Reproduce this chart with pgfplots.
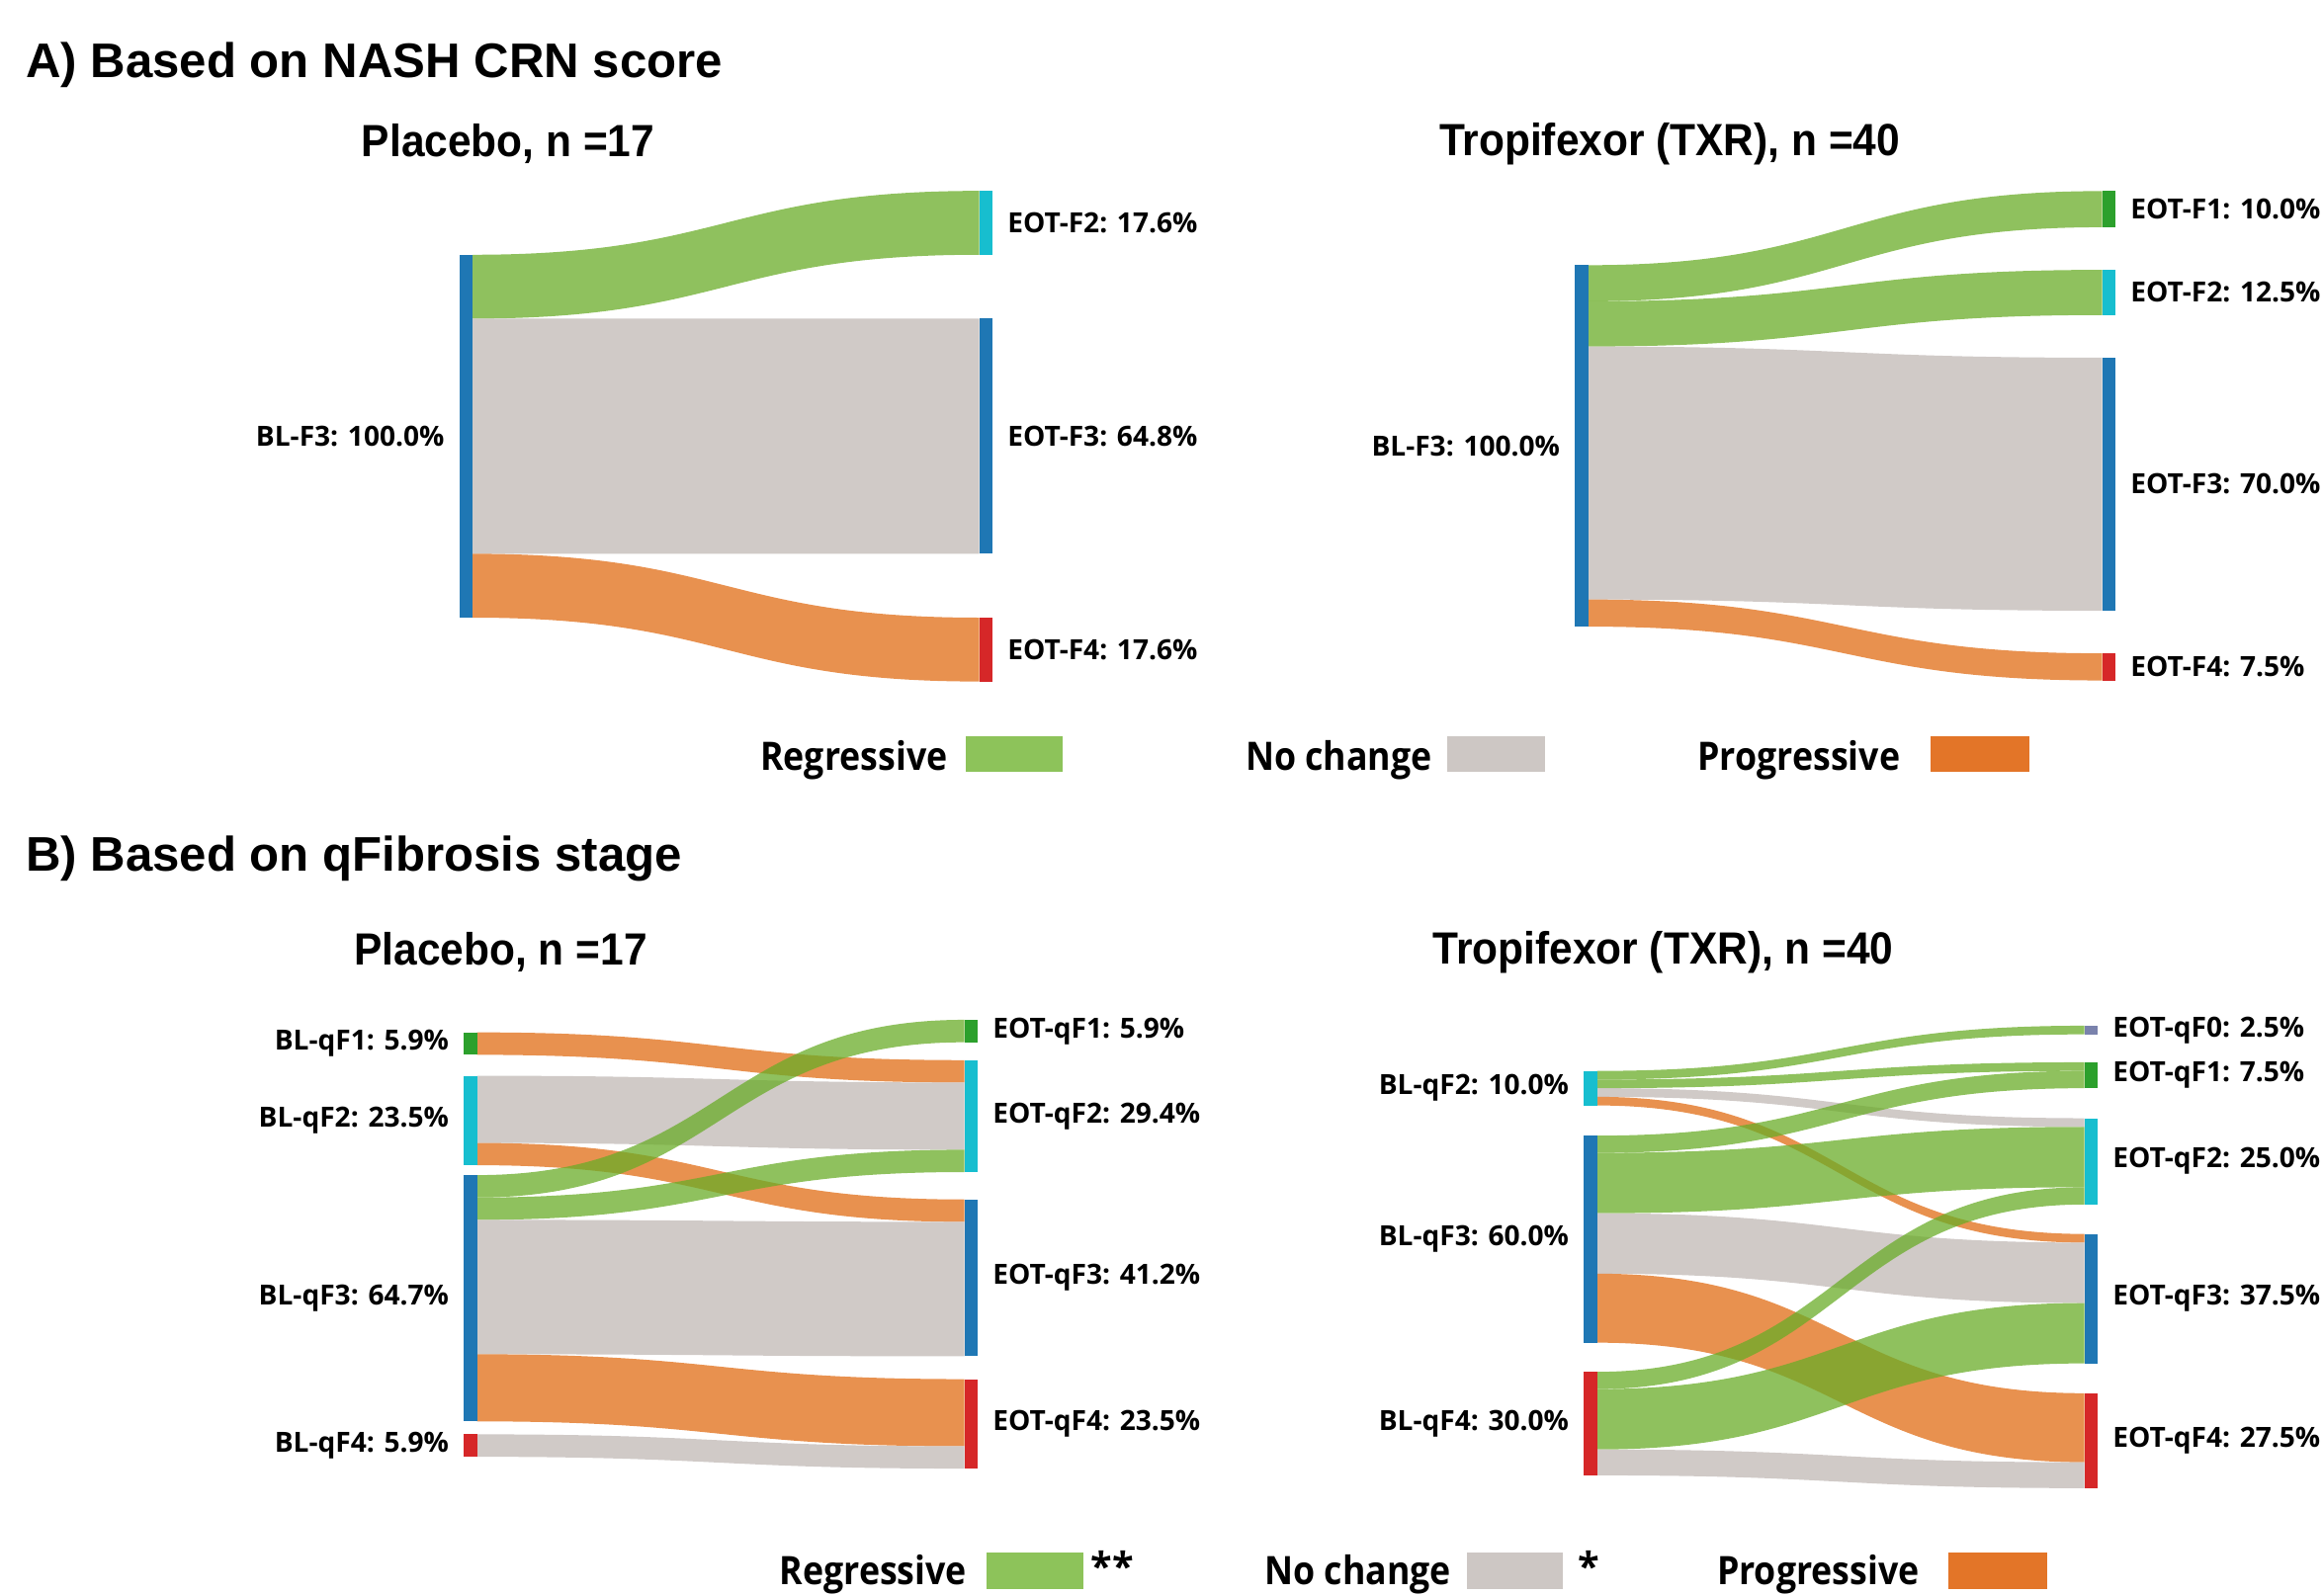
\documentclass[border=0pt]{standalone}
\usepackage{pgfplots}
\pgfplotsset{compat=1.18}
\usepgfplotslibrary{patchplots}
\usepackage{fontspec}
\setmainfont{Open Sans}
\newfontfamily\arialfont{Liberation Sans}

\definecolor{nblue}{RGB}{31,119,180}
\definecolor{ncyan}{RGB}{23,190,207}
\definecolor{ngreen}{RGB}{44,160,44}
\definecolor{nred}{RGB}{214,39,40}
\definecolor{nslate}{RGB}{122,130,172}
\definecolor{fgreen}{RGB}{106,172,40}
\definecolor{fgrey}{RGB}{192,184,180}
\definecolor{forange}{RGB}{224,108,20}
\definecolor{lgreen}{RGB}{141,195,90}
\definecolor{lgrey}{RGB}{205,199,196}
\definecolor{lorange}{RGB}{227,117,40}

\pgfplotsset{
  colormap={mgreen}{color=(fgreen) color=(fgreen)},
  colormap={mgrey}{color=(fgrey) color=(fgrey)},
  colormap={morange}{color=(forange) color=(forange)},
  sk/.style={scale only axis, axis lines=none, ticks=none, clip=false,
    y dir=reverse, xmin=0, xmax=1, anchor=north west,
    point meta min=0, point meta max=1},
}
% flow: colormap, left top, left bottom, right top, right bottom (in % units)
\newcommand{\flow}[5]{\addplot[patch, patch type=coons, shader=flat,
  colormap name=#1, point meta=0, fill opacity=0.75, draw opacity=0]
  coordinates {(0,#2) (0.5,#2) (0.5,#4) (1,#4) (1,#4) (1,#5) (1,#5)
               (0.5,#5) (0.5,#3) (0,#3) (0,#3) (0,#2)};}
% node bar: colour, x left, x right, top, bottom
\newcommand{\nbar}[5]{\addplot[fill=#1, draw=none]
  coordinates {(#2,#4) (#3,#4) (#3,#5) (#2,#5)};}

\tikzset{
  lbl/.style={font=\fontsize{8}{9}\selectfont\bfseries, inner sep=0pt},
  ll/.style={lbl, anchor=east, xshift=-2.8mm},
  rl/.style={lbl, anchor=west, xshift=2.8mm},
  sec/.style={font=\arialfont\bfseries\fontsize{14}{16}\selectfont, inner sep=0pt, anchor=west},
  ttl/.style={font=\arialfont\bfseries\fontsize{13}{15}\selectfont, inner sep=0pt},
  leg/.style={font=\fontsize{11.3}{13}\selectfont\bfseries, inner sep=0pt, anchor=east},
}

\begin{document}
\begin{tikzpicture}
\useasboundingbox (0,0) rectangle (235.2mm,-161.55mm);

% ---------- titles ----------
\node[sec] at (2.55mm,-6.6mm) {A) Based on NASH CRN score};
\node[sec] at (2.55mm,-87.0mm) {B) Based on qFibrosis stage};
\node[ttl] at (51.45mm,-14.55mm) {\scalebox{0.93}[1]{Placebo, n =17}};
\node[ttl] at (169.05mm,-14.55mm) {\scalebox{0.93}[1]{Tropifexor (TXR), n =40}};
\node[ttl] at (50.7mm,-96.45mm) {\scalebox{0.93}[1]{Placebo, n =17}};
\node[ttl] at (168.4mm,-96.45mm) {\scalebox{0.93}[1]{Tropifexor (TXR), n =40}};

% ---------- A: Placebo ----------
\begin{axis}[sk, at={(47.85mm,-19.33mm)}, width=51.3mm, height=49.69mm,
  ymin=-17.6, ymax=117.6]
\flow{mgreen}{0}{17.6}{-17.6}{0}
\flow{mgrey}{17.6}{82.4}{17.6}{82.4}
\flow{morange}{82.4}{100}{100}{117.6}
\nbar{nblue}{-0.0263}{0}{0}{100}
\nbar{ncyan}{1}{1.0263}{-17.6}{0}
\nbar{nblue}{1}{1.0263}{17.6}{82.4}
\nbar{nred}{1}{1.0263}{100}{117.6}
\node[ll] at (axis cs:0,50) {BL-F3: 100.0\%};
\node[rl] at (axis cs:1,-8.8) {EOT-F2: 17.6\%};
\node[rl] at (axis cs:1,50) {EOT-F3: 64.8\%};
\node[rl] at (axis cs:1,108.8) {EOT-F4: 17.6\%};
\end{axis}

% ---------- A: TXR ----------
\begin{axis}[sk, at={(160.8mm,-19.35mm)}, width=52.05mm, height=49.6mm,
  ymin=-20.5, ymax=115]
\flow{mgreen}{0}{10}{-20.5}{-10.5}
\flow{mgreen}{10}{22.5}{1.3}{13.8}
\flow{mgrey}{22.5}{92.5}{25.6}{95.6}
\flow{morange}{92.5}{100}{107.4}{114.9}
\nbar{nblue}{-0.0259}{0}{0}{100}
\nbar{ngreen}{1}{1.0259}{-20.5}{-10.5}
\nbar{ncyan}{1}{1.0259}{1.3}{13.8}
\nbar{nblue}{1}{1.0259}{25.6}{95.6}
\nbar{nred}{1}{1.0259}{107.4}{114.9}
\node[ll] at (axis cs:0,50) {BL-F3: 100.0\%};
\node[rl] at (axis cs:1,-15.5) {EOT-F1: 10.0\%};
\node[rl] at (axis cs:1,7.55) {EOT-F2: 12.5\%};
\node[rl] at (axis cs:1,60.6) {EOT-F3: 70.0\%};
\node[rl] at (axis cs:1,111.15) {EOT-F4: 7.5\%};
\end{axis}

% ---------- B: Placebo ----------
\begin{axis}[sk, at={(48.3mm,-103.28mm)}, width=49.35mm, height=45.45mm,
  ymin=-3.3, ymax=114.6]
\flow{morange}{0}{5.9}{7.3}{13.18}
\flow{mgrey}{11.4}{29.05}{13.18}{30.83}
\flow{morange}{29.05}{34.9}{43.9}{49.78}
\flow{mgreen}{37.5}{43.38}{-3.3}{2.6}
\flow{mgreen}{43.38}{49.26}{30.83}{36.7}
\flow{mgrey}{49.26}{84.56}{49.78}{85.1}
\flow{morange}{84.56}{102.2}{91.1}{108.74}
\flow{mgrey}{105.6}{111.5}{108.74}{114.6}
\nbar{ngreen}{-0.0274}{0}{0}{5.9}
\nbar{ncyan}{-0.0274}{0}{11.4}{34.9}
\nbar{nblue}{-0.0274}{0}{37.5}{102.2}
\nbar{nred}{-0.0274}{0}{105.6}{111.5}
\nbar{ngreen}{1}{1.0274}{-3.3}{2.6}
\nbar{ncyan}{1}{1.0274}{7.3}{36.7}
\nbar{nblue}{1}{1.0274}{43.9}{85.1}
\nbar{nred}{1}{1.0274}{91.1}{114.6}
\node[ll] at (axis cs:0,2.95) {BL-qF1: 5.9\%};
\node[ll] at (axis cs:0,23.15) {BL-qF2: 23.5\%};
\node[ll] at (axis cs:0,69.85) {BL-qF3: 64.7\%};
\node[ll] at (axis cs:0,108.55) {BL-qF4: 5.9\%};
\node[rl] at (axis cs:1,-0.35) {EOT-qF1: 5.9\%};
\node[rl] at (axis cs:1,22.0) {EOT-qF2: 29.4\%};
\node[rl] at (axis cs:1,64.5) {EOT-qF3: 41.2\%};
\node[rl] at (axis cs:1,102.85) {EOT-qF4: 23.5\%};
\end{axis}

% ---------- B: TXR ----------
\begin{axis}[sk, at={(161.7mm,-103.88mm)}, width=49.35mm, height=46.83mm,
  ymin=-13.1, ymax=120.9]
\flow{mgreen}{0}{2.5}{-13.1}{-10.6}
\flow{mgreen}{2.5}{5}{-2.5}{0}
\flow{mgrey}{5}{7.5}{13.7}{16.2}
\flow{morange}{7.5}{10}{47.25}{49.75}
\flow{mgreen}{18.75}{23.75}{0}{5}
\flow{mgreen}{23.75}{41.25}{16.2}{33.7}
\flow{mgrey}{41.25}{58.75}{49.75}{67.25}
\flow{morange}{58.75}{78.75}{93.4}{113.4}
\flow{mgreen}{87.2}{92.2}{33.7}{38.7}
\flow{mgreen}{92.2}{109.7}{67.25}{84.75}
\flow{mgrey}{109.7}{117.2}{113.4}{120.9}
\nbar{ncyan}{-0.0274}{0}{0}{10}
\nbar{nblue}{-0.0274}{0}{18.75}{78.75}
\nbar{nred}{-0.0274}{0}{87.2}{117.2}
\nbar{nslate}{1}{1.0274}{-13.1}{-10.6}
\nbar{ngreen}{1}{1.0274}{-2.5}{5}
\nbar{ncyan}{1}{1.0274}{13.7}{38.7}
\nbar{nblue}{1}{1.0274}{47.25}{84.75}
\nbar{nred}{1}{1.0274}{93.4}{120.9}
\node[ll] at (axis cs:0,5) {BL-qF2: 10.0\%};
\node[ll] at (axis cs:0,48.75) {BL-qF3: 60.0\%};
\node[ll] at (axis cs:0,102.2) {BL-qF4: 30.0\%};
\node[rl] at (axis cs:1,-11.85) {EOT-qF0: 2.5\%};
\node[rl] at (axis cs:1,1.25) {EOT-qF1: 7.5\%};
\node[rl] at (axis cs:1,26.2) {EOT-qF2: 25.0\%};
\node[rl] at (axis cs:1,66.0) {EOT-qF3: 37.5\%};
\node[rl] at (axis cs:1,107.15) {EOT-qF4: 27.5\%};
\end{axis}

% ---------- legends ----------
\node[leg] at (96.0mm,-76.95mm) {\scalebox{0.9}[1]{Regressive}};
\fill[lgreen] (97.8mm,-74.55mm) rectangle (107.55mm,-78.15mm);
\node[leg] at (145.05mm,-76.95mm) {\scalebox{0.9}[1]{No change}};
\fill[lgrey] (146.55mm,-74.55mm) rectangle (156.45mm,-78.15mm);
\node[leg] at (192.45mm,-76.95mm) {\scalebox{0.9}[1]{Progressive}};
\fill[lorange] (195.45mm,-74.55mm) rectangle (205.5mm,-78.15mm);

\node[leg] at (97.95mm,-159.5mm) {\scalebox{0.9}[1]{Regressive}};
\fill[lgreen] (99.9mm,-157.2mm) rectangle (109.65mm,-160.95mm);
\node[leg, anchor=west] at (110.4mm,-158.6mm) {**};
\node[leg] at (147.0mm,-159.5mm) {\scalebox{0.9}[1]{No change}};
\fill[lgrey] (148.5mm,-157.2mm) rectangle (158.25mm,-160.95mm);
\node[leg, anchor=west] at (159.75mm,-158.6mm) {*};
\node[leg] at (194.4mm,-159.5mm) {\scalebox{0.9}[1]{Progressive}};
\fill[lorange] (197.25mm,-157.2mm) rectangle (207.3mm,-160.95mm);
\end{tikzpicture}
\end{document}
